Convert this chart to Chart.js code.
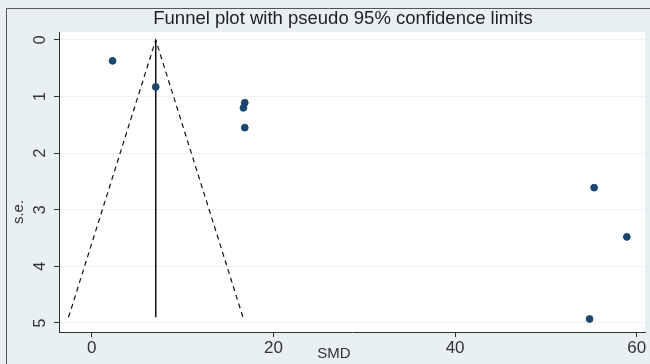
<!DOCTYPE html>
<html>
<head>
<meta charset="utf-8">
<script src="https://cdn.jsdelivr.net/npm/chart.js@4/dist/chart.umd.min.js"></script>
<style>
  html, body { margin: 0; padding: 0; background: #e8f0f3; }
  #wrap { width: 650px; height: 364px; }
</style>
</head>
<body>
<div id="wrap"><canvas id="chart1" width="650" height="364"></canvas></div>
<script>
// Datos
const studySMD = [2.3, 7.05, 16.85, 16.7, 16.85, 55.3, 58.9, 54.8];
const studySE = [0.37, 0.83, 1.11, 1.2, 1.55, 2.61, 3.48, 4.93];

// Límites del embudo (pseudo 95%)
const funnelX = [-2.55, 7.05, 16.65];
const funnelY = [4.9, 0, 4.9];
const pooledX = [7.05, 7.05];
const pooledY = [0, 4.9];

const xTicks = [0, 20, 40, 60];
const yTicks = [0, 1, 2, 3, 4, 5];

const chartTitle = 'Funnel plot with pseudo 95% confidence limits';

const toPoints = (xs, ys) => xs.map((x, i) => ({ x: x, y: ys[i] }));

const fontFam = '"Liberation Sans", Arial, sans-serif';
const axisColor = '#333333';

// Fondo y marco exterior
const bgPlugin = {
    id: 'bgPlugin',
    beforeDraw(chart) {
        const c = chart.ctx;
        const a = chart.chartArea;
        c.save();
        c.fillStyle = '#e8f0f3';
        c.fillRect(0, 0, chart.width, chart.height);
        c.fillStyle = '#ffffff';
        c.fillRect(a.left, a.top, a.right - a.left, a.bottom - a.top);
        c.strokeStyle = '#555555';
        c.lineWidth = 1;
        c.beginPath();
        c.moveTo(6.5, chart.height);
        c.lineTo(6.5, 8.5);
        c.lineTo(chart.width, 8.5);
        c.stroke();
        c.restore();
    }
};

// Título, etiquetas rotadas del eje Y y títulos de ejes
const labelPlugin = {
    id: 'labelPlugin',
    afterDraw(chart) {
        const c = chart.ctx;
        const ys = chart.scales.y;
        c.save();
        c.textAlign = 'center';
        c.textBaseline = 'middle';
        // título
        c.fillStyle = '#222222';
        c.font = '18.5px ' + fontFam;
        c.fillText(chartTitle, 343, 19);

        c.fillStyle = axisColor;
        c.font = '16px ' + fontFam;
        ys.ticks.forEach(t => {
            const py = ys.getPixelForValue(t.value);
            c.save();
            c.translate(41, py);
            c.rotate(-Math.PI / 2);
            c.fillText(String(t.value), 0, 0);
            c.restore();
        });
        // título eje Y
        c.font = '15px ' + fontFam;
        c.save();
        c.translate(19, 212);
        c.rotate(-Math.PI / 2);
        c.fillText('s.e.', 0, 0);
        c.restore();
        // título eje X
        c.fillText('SMD', 334, 354);
        c.restore();
    }
};

let chart1 = new Chart(document.getElementById('chart1').getContext('2d'), {
    type: 'scatter',
    data: {
        datasets: [{
            label: 'Studies',
            data: toPoints(studySMD, studySE),
            backgroundColor: '#1a476f',
            borderColor: '#1a476f',
            pointRadius: 3.4,
            pointHoverRadius: 3.4,
            showLine: false
        }, {
            label: 'Pseudo 95% CI',
            data: toPoints(funnelX, funnelY),
            showLine: true,
            borderColor: '#111111',
            borderWidth: 1.2,
            borderDash: [5, 4],
            pointRadius: 0,
            fill: false
        }, {
            label: 'Pooled',
            data: toPoints(pooledX, pooledY),
            showLine: true,
            borderColor: '#111111',
            borderWidth: 1.5,
            pointRadius: 0,
            fill: false
        }]
    },
    options: {
        responsive: false,
        animation: false,
        layout: { padding: { left: 0, right: 5, top: 32, bottom: 0 } },
        plugins: {
            legend: { display: false },
            tooltip: { enabled: false },
            title: { display: false }
        },
        scales: {
            x: {
                type: 'linear',
                min: -3.6,
                max: 60.9,
                afterBuildTicks: s => { s.ticks = xTicks.map(v => ({ value: v })); },
                afterFit: s => { s.height = 32; },
                border: { color: axisColor, width: 1 },
                grid: { drawOnChartArea: false, drawTicks: true, tickLength: 5, tickColor: axisColor },
                ticks: { color: axisColor, font: { family: fontFam, size: 17 }, padding: 1, maxRotation: 0 }
            },
            y: {
                type: 'linear',
                reverse: true,
                min: -0.14,
                max: 5.16,
                afterBuildTicks: s => { s.ticks = yTicks.map(v => ({ value: v })); },
                afterFit: s => { s.width = 59; },
                border: { color: axisColor, width: 1 },
                grid: { color: '#eef3f5', lineWidth: 1, drawTicks: true, tickLength: 5, tickColor: axisColor },
                ticks: { color: 'rgba(0,0,0,0)', font: { family: fontFam, size: 14 } }
            }
        }
    },
    plugins: [bgPlugin, labelPlugin]
});
</script>
</body>
</html>
